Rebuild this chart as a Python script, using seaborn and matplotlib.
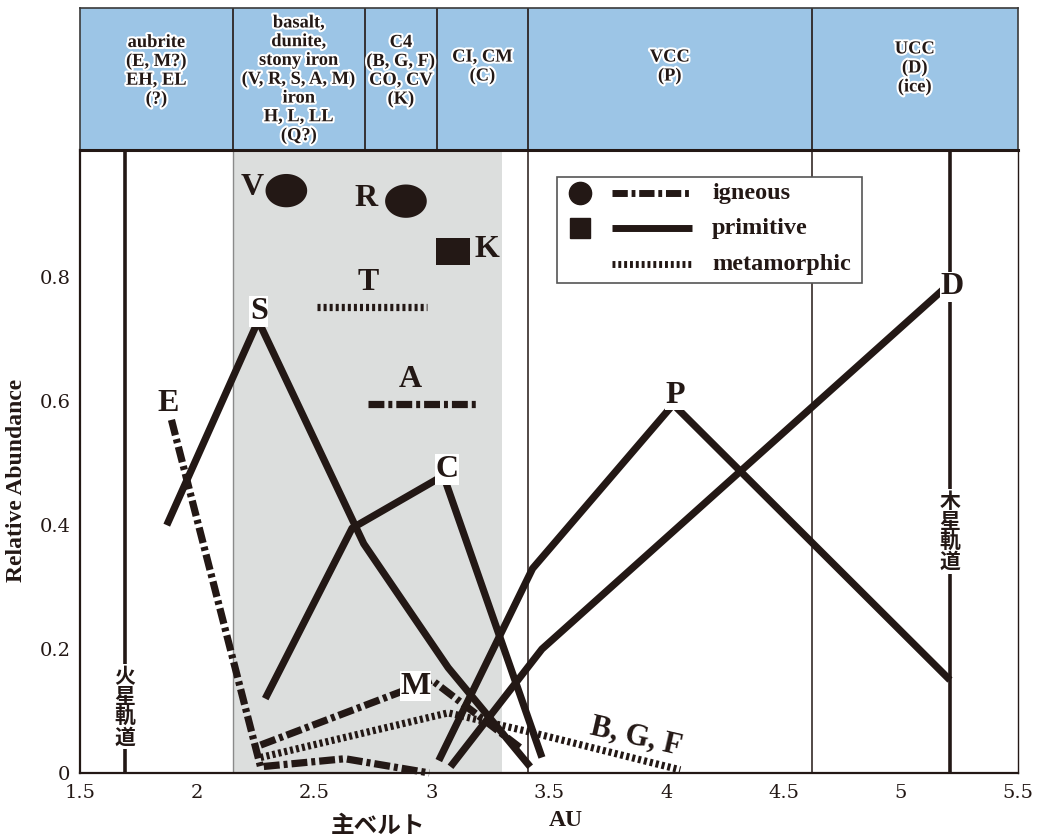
import numpy as np
import pandas as pd
import seaborn as sns
import matplotlib.pyplot as plt
import matplotlib.patheffects as pe
import matplotlib.transforms as mtrans

# --- data (x in AU, y = relative abundance) ---
# primitive (solid)
S_x = [1.87, 2.26, 2.71, 3.07, 3.42]
S_y = [0.40, 0.73, 0.37, 0.17, 0.01]
C_x = [2.29, 2.66, 3.05, 3.47]
C_y = [0.12, 0.395, 0.48, 0.025]
P_x = [3.03, 3.43, 4.03, 5.21]
P_y = [0.02, 0.33, 0.595, 0.15]
D_x = [3.08, 3.47, 5.18]
D_y = [0.01, 0.20, 0.78]
# igneous (dash-dot)
E_x = [1.89, 2.27, 2.63, 2.99]
E_y = [0.57, 0.01, 0.023, 0.0]
M_x = [2.27, 3.0, 3.38]
M_y = [0.045, 0.15, 0.04]
A_x = [2.73, 3.19]
A_y = [0.595, 0.595]
# metamorphic (dotted)
BGF_x = [2.27, 3.07, 3.42, 4.06]
BGF_y = [0.025, 0.097, 0.066, 0.005]
T_x = [2.51, 2.98]
T_y = [0.752, 0.752]
# single classes
round_names = ['V', 'R']
round_x = [2.38, 2.89]
round_y = [0.94, 0.923]
square_x = [3.09]
square_y = [0.842]

# letter labels
lab_text = ['V', 'R', 'K', 'T', 'S', 'A', 'E', 'C', 'M', 'P', 'D']
lab_x = [2.235, 2.72, 3.235, 2.73, 2.263, 2.907, 1.875, 3.065, 2.93, 4.04, 5.22]
lab_y = [0.945, 0.928, 0.845, 0.792, 0.745, 0.635, 0.597, 0.49, 0.14, 0.61, 0.785]

# header columns
col_edges = [1.5, 2.152, 2.715, 3.022, 3.41, 4.62, 5.5]
col_text = ['aubrite\n(E, M?)\nEH, EL\n(?)',
            'basalt,\ndunite,\nstony iron\n(V, R, S, A, M)\niron\nH, L, LL\n(Q?)',
            'C4\n(B, G, F)\nCO, CV\n(K)',
            'CI, CM\n(C)',
            'VCC\n(P)',
            'UCC\n(D)\n(ice)']
col_text_y = [0.56, 0.50, 0.56, 0.59, 0.59, 0.58]

main_belt = (2.152, 3.30)
mars_au = 1.69
jupiter_au = 5.21
x_ticks = [1.5, 2, 2.5, 3, 3.5, 4, 4.5, 5, 5.5]
y_major = [0, 0.2, 0.4, 0.6, 0.8]
y_minor = [0.1, 0.3, 0.5, 0.7, 0.9]

ink = '#231815'
blue = '#9cc5e6'
shade = '#dcdedd'

sns.set_theme(style='white')
plt.rcParams['font.family'] = ['Liberation Serif', 'Noto Sans CJK JP']

fig = plt.figure(figsize=(10.43, 8.4), dpi=100)
ax = fig.add_axes([0.0767, 0.0798, 0.8993, 0.7412])
hax = fig.add_axes([0.0767, 0.821, 0.8993, 0.169])

ax.set_xlim(1.5, 5.5)
ax.set_ylim(0, 1.005)

# main belt shading and orbit/column lines
ax.axvspan(*main_belt, color=shade, lw=0, zorder=0)
ax.axvline(main_belt[0], color='#8a8a8a', lw=1, zorder=0.5)
for xe in [3.41, 4.62]:
    ax.axvline(xe, color=ink, lw=1.1, zorder=1)
for xe in [mars_au, jupiter_au]:
    ax.axvline(xe, color=ink, lw=2.6, zorder=1)

dashdot = (0, (2.2, 0.55, 0.55, 0.55))
dotted = (0, (0.42, 0.42))
lw = 5.2

def draw(xs, ys, style):
    df = pd.DataFrame({'x': xs, 'y': ys})
    sns.lineplot(data=df, x='x', y='y', sort=False, estimator=None, ax=ax,
                 color=ink, lw=lw, linestyle=style, solid_capstyle='butt',
                 dash_capstyle='butt', clip_on=False, zorder=3)

for xs, ys in [(S_x, S_y), (C_x, C_y), (P_x, P_y), (D_x, D_y)]:
    draw(xs, ys, '-')
for xs, ys in [(E_x, E_y), (M_x, M_y), (A_x, A_y)]:
    draw(xs, ys, dashdot)
for xs, ys in [(BGF_x, BGF_y), (T_x, T_y)]:
    draw(xs, ys, dotted)

t = np.linspace(0, 2 * np.pi, 80)
ellipse = np.column_stack([np.cos(t), 0.8 * np.sin(t)])
rect = [(-1, -0.8), (1, -0.8), (1, 0.8), (-1, 0.8), (-1, -0.8)]
sns.scatterplot(x=round_x, y=round_y, marker=ellipse, s=900, color=ink,
                edgecolor='none', ax=ax, zorder=4)
sns.scatterplot(x=square_x, y=square_y, marker=rect, s=620, color=ink,
                edgecolor='none', ax=ax, zorder=4)

for txt, x, y in zip(lab_text, lab_x, lab_y):
    ax.text(x, y, txt, ha='center', va='center', fontsize=23, fontweight='bold',
            color=ink, zorder=5,
            bbox=dict(facecolor='white', edgecolor='none', pad=0.5)
            if txt in 'SCMPD' else None)
ax.text(3.87, 0.058, 'B, G, F', rotation=-13, ha='center', va='center',
        fontsize=22, fontweight='bold', color=ink, zorder=5)

# orbit labels
for xo, yo, name in [(mars_au, 0.107, '火星軌道'), (jupiter_au, 0.39, '木星軌道')]:
    ax.text(xo, yo, '\n'.join(name), ha='center', va='center', fontsize=15,
            fontweight='bold', family='Noto Sans CJK JP', linespacing=0.95,
            color=ink, zorder=5,
            bbox=dict(facecolor='white', edgecolor='none', pad=1))

# axes styling
ax.set_xticks(x_ticks)
ax.set_xticklabels(['1.5', '2', '2.5', '3', '3.5', '4', '4.5', '5', '5.5'])
ax.set_yticks(y_major)
ax.set_yticklabels(['0', '0.2', '0.4', '0.6', '0.8'])
ax.set_yticks(y_minor, minor=True)
ax.tick_params(axis='both', which='both', direction='in', length=11, width=1,
               color=ink, labelcolor=ink, pad=7)
ax.tick_params(axis='x', pad=8)
for lbl in ax.get_xticklabels() + ax.get_yticklabels():
    lbl.set_family('DejaVu Serif')
    lbl.set_fontsize(14)
for side in ['left', 'bottom']:
    ax.spines[side].set_color(ink)
    ax.spines[side].set_linewidth(1.6)
ax.spines['right'].set_color(ink)
ax.spines['right'].set_linewidth(1)
ax.spines['top'].set_visible(False)
ax.set_xlabel('')
ax.set_ylabel('Relative Abundance', fontsize=17, fontweight='bold', color=ink)
ax.yaxis.set_label_coords(-0.056, 0.47)

bt = mtrans.blended_transform_factory(ax.transData, ax.transAxes)
ax.text(3.57, -0.076, 'AU', transform=bt, ha='center', va='center',
        fontsize=17, fontweight='bold', color=ink)
ax.text(2.77, -0.085, '主ベルト', transform=bt, ha='center', va='center',
        fontsize=17, fontweight='bold', family='Noto Sans CJK JP', color=ink)

# header
hax.set_xlim(1.5, 5.5)
hax.set_ylim(0, 1)
hax.set_facecolor(blue)
hax.set_xticks([])
hax.set_yticks([])
for side in ['left', 'right', 'top']:
    hax.spines[side].set_color('#3a3a3a')
    hax.spines[side].set_linewidth(1.2)
hax.spines['bottom'].set_color(ink)
hax.spines['bottom'].set_linewidth(2.2)
for xe in col_edges[1:-1]:
    hax.axvline(xe, color=ink, lw=1.2)
for i, txt in enumerate(col_text):
    xc = (col_edges[i] + col_edges[i + 1]) / 2
    hax.text(xc, col_text_y[i], txt, ha='center', va='center', fontsize=13.3,
             fontweight='bold', color=ink, linespacing=1.13,
             path_effects=[pe.withStroke(linewidth=3, foreground='white')])

# legend drawn as a framed key
lx0, lx1, ly0, ly1 = 0.5085, 0.834, 0.787, 0.957
ax.add_patch(plt.Rectangle((lx0, ly0), lx1 - lx0, ly1 - ly0, transform=ax.transAxes,
                           facecolor='white', edgecolor='#555555', lw=1.2, zorder=6))
rows = [(0.931, 'o', dashdot, 'igneous'), (0.875, 's', '-', 'primitive'),
        (0.817, None, dotted, 'metamorphic')]
for yy, mk, style, name in rows:
    if mk:
        ax.plot([0.533], [yy], marker=mk, color=ink, ms=16 if mk == 'o' else 15,
                ls='none', transform=ax.transAxes, zorder=7, clip_on=False)
    ax.plot([0.567, 0.652], [yy, yy], color=ink, lw=5, linestyle=style,
            solid_capstyle='butt', dash_capstyle='butt', transform=ax.transAxes,
            zorder=7)
    ax.text(0.674, yy, name, transform=ax.transAxes, ha='left', va='center',
            fontsize=17.5, fontweight='bold', color=ink, zorder=7)

fig.savefig('out.png', dpi=100)
